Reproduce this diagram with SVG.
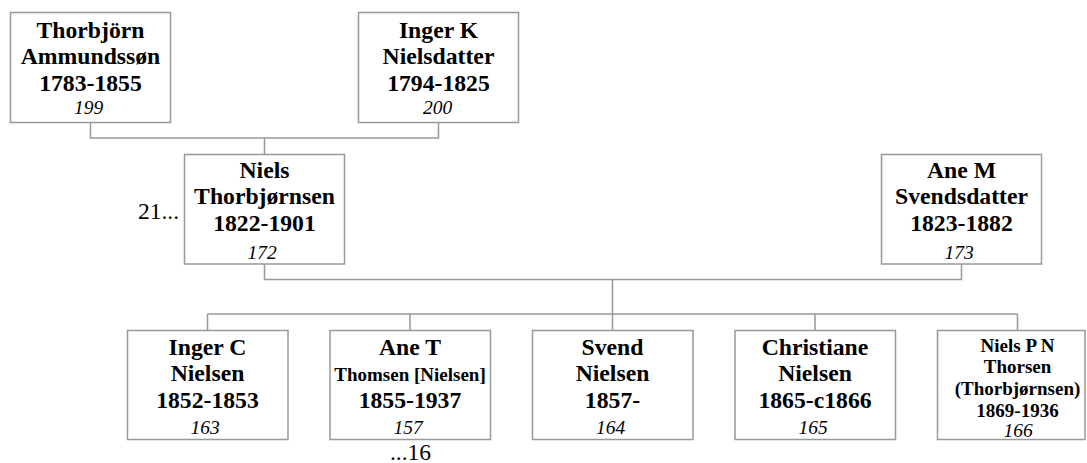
<svg xmlns="http://www.w3.org/2000/svg" width="1087" height="463" viewBox="0 0 1087 463">
<style>
.box{fill:#fff;stroke:#999;stroke-width:1.5}
.con{fill:none;stroke:#999;stroke-width:1.5}
.t text{fill:#000;text-anchor:middle}
.b{font-weight:bold;font-size:23.7px}
.bs{font-weight:bold;font-size:19px}
.i{font-style:italic;font-size:19.5px}
.r{font-size:23.5px}
</style>
<rect width="1087" height="463" fill="#fff"/>
<g id="connectors">
<path class="con" d="M90.5 122.5V138H438.5V122.5M264.5 138V154.5"/>
<path class="con" d="M264.5 264V279.5H961.5V264M612.5 279.5V314"/>
<path class="con" d="M207.5 314H1017.5M207.5 314V330.5M410 314V330.5M612.5 314V330.5M815 314V330.5M1017.5 314V330.5"/>
</g>
<g class="t" font-family="Liberation Serif, Tinos, DejaVu Serif, serif">
<g id="n199">
<rect class="box" x="10.5" y="12.5" width="160" height="110"/>
<text class="b" x="90.5" y="38.3">Thorbjörn</text>
<text class="b" x="90.5" y="64.3">Ammundssøn</text>
<text class="b" x="90.5" y="90.7">1783-1855</text>
<text class="i" x="88.5" y="114.3">199</text>
</g>
<g id="n200">
<rect class="box" x="358.5" y="12.5" width="160" height="110"/>
<text class="b" x="438.5" y="38.3">Inger K</text>
<text class="b" x="438.5" y="64.3">Nielsdatter</text>
<text class="b" x="438.5" y="90.7">1794-1825</text>
<text class="i" x="437.5" y="114.3">200</text>
</g>
<g id="n172">
<rect class="box" x="184.5" y="154.5" width="160" height="109.5"/>
<text class="b" x="264.5" y="178.3">Niels</text>
<text class="b" x="264.5" y="204.3">Thorbjørnsen</text>
<text class="b" x="264.5" y="230.7">1822-1901</text>
<text class="i" x="262" y="259">172</text>
<text class="r" x="179" y="219" style="text-anchor:end">21...</text>
</g>
<g id="n173">
<rect class="box" x="881.5" y="154.5" width="160" height="109.5"/>
<text class="b" x="961.5" y="178.3">Ane M</text>
<text class="b" x="961.5" y="204.3">Svendsdatter</text>
<text class="b" x="961.5" y="230.7">1823-1882</text>
<text class="i" x="959" y="259">173</text>
</g>
<g id="n163">
<rect class="box" x="127.5" y="330.5" width="160.5" height="109"/>
<text class="b" x="207.5" y="355">Inger C</text>
<text class="b" x="207.5" y="381">Nielsen</text>
<text class="b" x="207.5" y="407.7">1852-1853</text>
<text class="i" x="205" y="434.3">163</text>
</g>
<g id="n157">
<rect class="box" x="330" y="330.5" width="160.5" height="109"/>
<text class="b" x="410" y="355">Ane T</text>
<text class="bs" x="410" y="381">Thomsen [Nielsen]</text>
<text class="b" x="410" y="407.7">1855-1937</text>
<text class="i" x="408" y="434.3">157</text>
<text class="r" x="410.5" y="459.5">...16</text>
</g>
<g id="n164">
<rect class="box" x="532.5" y="330.5" width="160.5" height="109"/>
<text class="b" x="612.5" y="355">Svend</text>
<text class="b" x="612.5" y="381">Nielsen</text>
<text class="b" x="612.5" y="407.7">1857-</text>
<text class="i" x="610.5" y="434.3">164</text>
</g>
<g id="n165">
<rect class="box" x="735" y="330.5" width="160.5" height="109"/>
<text class="b" x="815" y="355">Christiane</text>
<text class="b" x="815" y="381">Nielsen</text>
<text class="b" x="815" y="407.7">1865-c1866</text>
<text class="i" x="813" y="434.3">165</text>
</g>
<g id="n166">
<rect class="box" x="937.5" y="330.5" width="147.5" height="109"/>
<text class="bs" x="1017.5" y="351.7">Niels P N</text>
<text class="bs" x="1017.5" y="373.3">Thorsen</text>
<text class="bs" x="1017.5" y="395">(Thorbjørnsen)</text>
<text class="bs" x="1017.5" y="416.7">1869-1936</text>
<text class="i" x="1018" y="436.7">166</text>
</g>
</g>
</svg>
